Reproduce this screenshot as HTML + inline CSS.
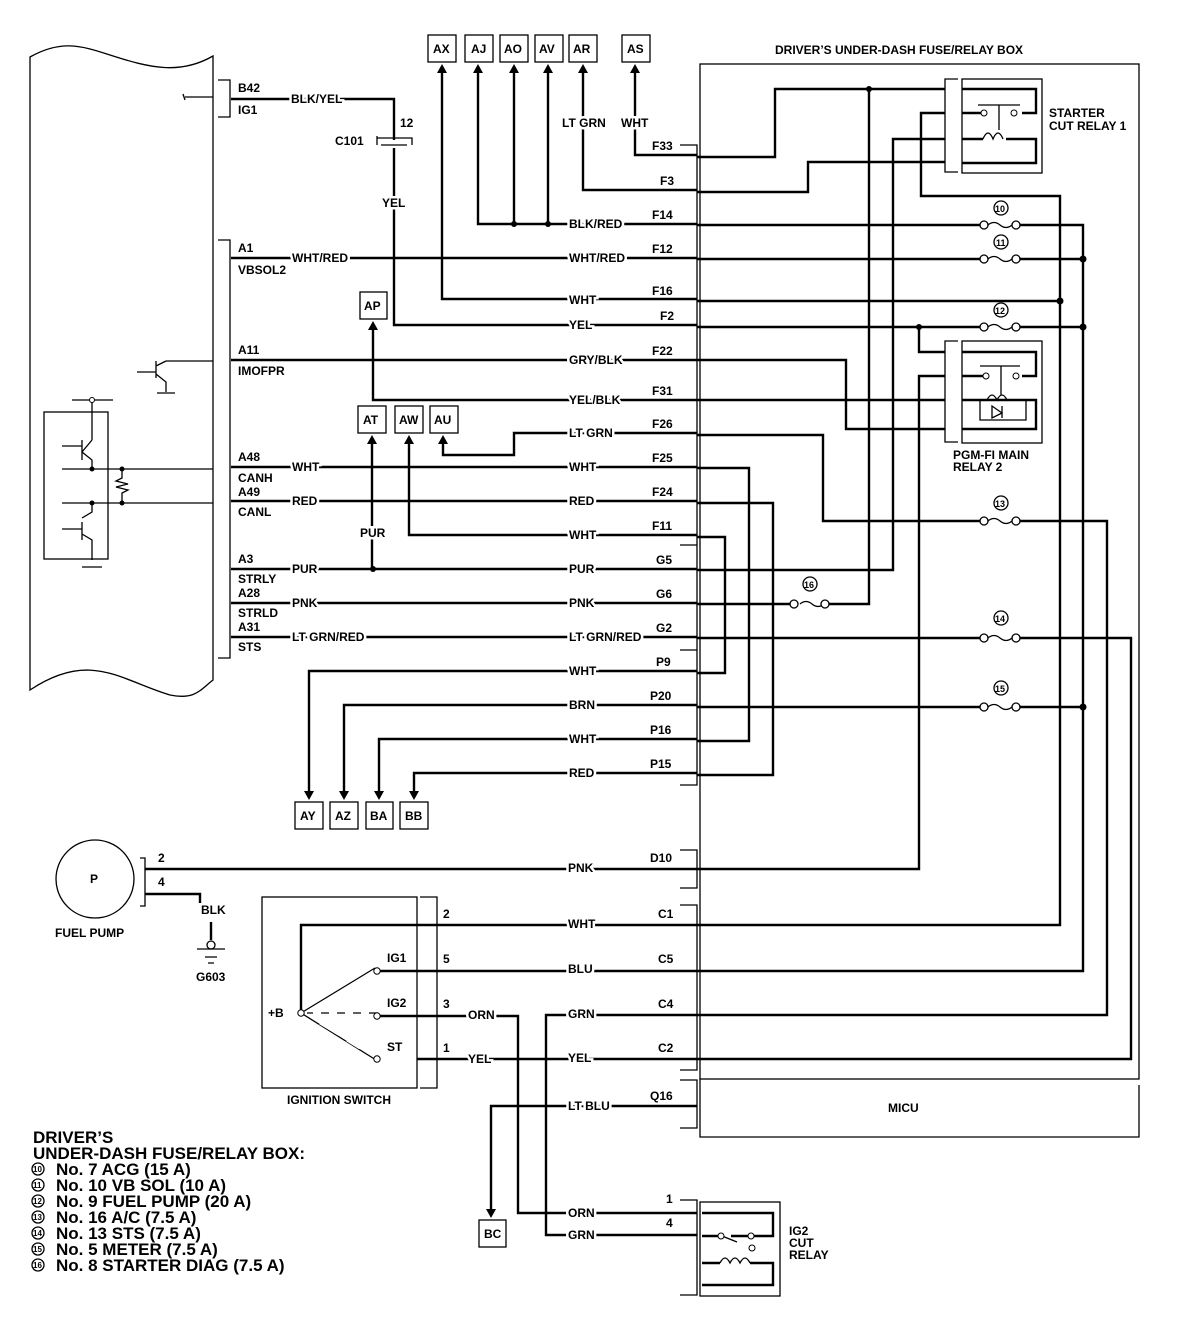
<!DOCTYPE html>
<html><head><meta charset="utf-8"><style>
html,body{margin:0;padding:0;background:#fff}
svg{display:block}
text{font-family:"Liberation Sans",sans-serif;font-weight:bold;font-size:12px;fill:#000}
.m{stroke:#fff;stroke-width:5px;paint-order:stroke}
.w{stroke:#000;stroke-width:2.4;fill:none}
.t{stroke:#000;stroke-width:1.3;fill:none}
.lg text{font-size:17px}
.fn text{font-size:9px}
.ln text{font-size:8px}
</style></head><body>
<svg width="1184" height="1338" viewBox="0 0 1184 1338" xmlns="http://www.w3.org/2000/svg">
<path class="t" d="M30,57 C60,40 80,45 110,55 C150,68 180,75 213,56 L213,680 C200,690 195,700 170,695 C120,680 90,650 30,690 Z"/>
<path class="t" d="M218,80 H230 V117 H218 M218,240 H230 V658 H218"/>
<rect x="44" y="412" width="64" height="147" class="t"/>
<path class="t" d="M72,400 H113 M92,400 V440 M82,440 V460 M62,446 H82 M92,440 L82,452 M82,452 L92,460 V470 M62,469 H213 M62,503 H213 M92,503 V512 L82,518 M82,522 V540 M62,529 H82 M82,534 L92,540 V560 M82,567 H102 M122,469 V478 L116,481 L128,484 L116,487 L128,490 L122,493 V503"/>
<circle cx="92" cy="469" r="2.5"/><circle cx="122" cy="469" r="2.5"/><circle cx="92" cy="503" r="2.5"/><circle cx="122" cy="503" r="2.5"/>
<circle cx="92" cy="400" r="2.5" fill="#fff" stroke="#000"/>
<path class="t" d="M166,361 H213 M156,361 V378 M137,372 H156 M156,366 L166,361 M156,374 L166,382 V392 M157,393 H175"/>
<path class="t" d="M185,97 H213 M183,94 L185,100"/>

<text x="238" y="92">B42</text><text x="238" y="114">IG1</text>
<text x="238" y="252">A1</text><text x="238" y="274">VBSOL2</text>
<text x="238" y="354">A11</text><text x="238" y="375">IMOFPR</text>
<text x="238" y="461">A48</text><text x="238" y="482">CANH</text>
<text x="238" y="496">A49</text><text x="238" y="516">CANL</text>
<text x="238" y="563">A3</text><text x="238" y="583">STRLY</text>
<text x="238" y="597">A28</text><text x="238" y="617">STRLD</text>
<text x="238" y="631">A31</text><text x="238" y="651">STS</text>

<path class="w" d="M231,99 H394 V140 M394,148 V325 H697"/>
<path class="t" d="M377,136 V145 M377,138 H412 V145 M381,145 H407"/>
<text x="291" y="103" class="m">BLK/YEL</text>
<text x="400" y="127">12</text>
<text x="335" y="145">C101</text>
<text x="382" y="207" class="m">YEL</text>

<path class="w" d="M231,258 H697 M231,360 H697 M231,467 H697 M231,501 H697 M231,569 H697 M231,603 H697 M231,637 H697"/>
<text x="292" y="262" class="m">WHT/RED</text>
<text x="292" y="471" class="m">WHT</text>
<text x="292" y="505" class="m">RED</text>
<text x="292" y="573" class="m">PUR</text>
<text x="292" y="607" class="m">PNK</text>
<text x="292" y="641" class="m">LT GRN/RED</text>

<g class="t">
<rect x="428" y="35" width="28" height="27"/><rect x="465" y="35" width="28" height="27"/><rect x="500" y="35" width="28" height="27"/><rect x="535" y="35" width="28" height="27"/><rect x="569" y="35" width="28" height="27"/><rect x="622" y="35" width="28" height="27"/>
<rect x="360" y="292" width="27" height="27"/><rect x="358" y="406" width="28" height="27"/><rect x="395" y="406" width="28" height="27"/><rect x="430" y="406" width="28" height="27"/>
<rect x="295" y="802" width="28" height="27"/><rect x="330" y="802" width="28" height="27"/><rect x="366" y="802" width="27" height="27"/><rect x="400" y="802" width="28" height="27"/>
<rect x="479" y="1220" width="27" height="27"/>
</g>
<text x="433" y="53">AX</text><text x="471" y="53">AJ</text><text x="504" y="53">AO</text><text x="539" y="53">AV</text><text x="573" y="53">AR</text><text x="627" y="53">AS</text>
<text x="364" y="310">AP</text><text x="363" y="424">AT</text><text x="399" y="424">AW</text><text x="434" y="424">AU</text>
<text x="300" y="820">AY</text><text x="335" y="820">AZ</text><text x="370" y="820">BA</text><text x="405" y="820">BB</text>
<text x="484" y="1238">BC</text>

<g fill="#000">
<path d="M442,64 l-5,9 h10z M478,64 l-5,9 h10z M514,64 l-5,9 h10z M548,64 l-5,9 h10z M583,64 l-5,9 h10z M635,64 l-5,9 h10z M373,321 l-5,9 h10z M372,435 l-5,9 h10z M409,435 l-5,9 h10z M443,435 l-5,9 h10z"/>
<path d="M309,800 l-5,-9 h10z M344,800 l-5,-9 h10z M379,800 l-5,-9 h10z M414,800 l-5,-9 h10z M491,1218 l-5,-9 h10z"/>
</g>
<path class="w" d="M442,70 V299 H697 M478,70 V224 H697 M514,70 V224 M548,70 V224 M583,70 V190 H697 M635,70 V155 H697"/>
<circle cx="514" cy="224" r="3"/><circle cx="548" cy="224" r="3"/>
<text x="562" y="127" class="m">LT GRN</text><text x="621" y="127" class="m">WHT</text>
<text x="569" y="228" class="m">BLK/RED</text>
<text x="569" y="262" class="m">WHT/RED</text>
<text x="569" y="304" class="m">WHT</text>
<text x="569" y="329" class="m">YEL</text>
<text x="569" y="364" class="m">GRY/BLK</text>
<path class="w" d="M373,327 V400 H697 M372,441 V569 M409,441 V535 H697 M443,441 V455 H514 V433 H697"/>
<circle cx="373" cy="569" r="3"/>
<text x="569" y="404" class="m">YEL/BLK</text>
<text x="569" y="437" class="m">LT GRN</text>
<text x="569" y="471" class="m">WHT</text>
<text x="569" y="505" class="m">RED</text>
<text x="569" y="539" class="m">WHT</text>
<text x="360" y="537" class="m">PUR</text>
<text x="569" y="573" class="m">PUR</text>
<text x="569" y="607" class="m">PNK</text>
<text x="569" y="641" class="m">LT GRN/RED</text>
<path class="w" d="M697,671 H309 V795 M697,705 H344 V795 M697,739 H379 V795 M697,773 H414 V795"/>
<text x="569" y="675" class="m">WHT</text><text x="569" y="709" class="m">BRN</text><text x="569" y="743" class="m">WHT</text><text x="569" y="777" class="m">RED</text>

<text x="652" y="150">F33</text><text x="660" y="185">F3</text><text x="652" y="219">F14</text><text x="652" y="253">F12</text><text x="652" y="295">F16</text><text x="660" y="320">F2</text><text x="652" y="355">F22</text><text x="652" y="395">F31</text><text x="652" y="428">F26</text><text x="652" y="462">F25</text><text x="652" y="496">F24</text><text x="652" y="530">F11</text><text x="656" y="564">G5</text><text x="656" y="598">G6</text><text x="656" y="632">G2</text><text x="656" y="666">P9</text><text x="650" y="700">P20</text><text x="650" y="734">P16</text><text x="650" y="768">P15</text>
<text x="650" y="862">D10</text><text x="658" y="918">C1</text><text x="658" y="963">C5</text><text x="658" y="1008">C4</text><text x="658" y="1052">C2</text><text x="650" y="1100">Q16</text>

<path class="t" d="M680,145 H697 V545 H680 M680,545 H697 V650 H680 M680,650 H697 V785 H680 M680,850 H697 V888 H680 M680,905 H697 V1070 H680 M680,1080 H697 V1128 H680 M680,1200 H697 V1295 H680"/>
<rect x="700" y="64" width="439" height="1015" class="t" stroke-width="1.8"/>
<path class="t" stroke-width="1.8" d="M700,1079 V1137 H1139 V1085"/>
<text x="888" y="1112">MICU</text>
<text x="775" y="54">DRIVER’S UNDER-DASH FUSE/RELAY BOX</text>

<path class="w" d="M697,157 H775 V89 H945 M869,89 V604 H826 M697,192 H808 V162 H945 M945,113 H921 V196 H1060 V925 H697 M945,139 H893 V570 H697
M697,225 H980 M1020,225 H1083 V971 H697 M697,259 H980 M1020,259 H1083 M697,301 H1060 M697,327 H980 M1020,327 H1083
M919,327 V352 H945 M945,376 H919 V869 H697 M697,360 H846 V429 H945 M697,400 H945
M697,435 H823 V521 H980 M1020,521 H1107 V1015 H697 M697,468 H749 V741 H697 M697,503 H773 V775 H697 M697,537 H725 V673 H697
M697,604 H792 M697,638 H980 M1020,638 H1131 V1059 H697 M697,707 H980 M1020,707 H1083"/>
<circle cx="869" cy="89" r="3"/><circle cx="1060" cy="301" r="3.5"/><circle cx="1083" cy="259" r="3.5"/><circle cx="1083" cy="327" r="3.5"/><circle cx="1083" cy="707" r="3.5"/><circle cx="919" cy="327" r="3"/>
<g class="t" fill="#fff">
<path d="M988,225 q6,-5 12,0 t12,0 M988,259 q6,-5 12,0 t12,0 M988,327 q6,-5 12,0 t12,0 M988,521 q6,-5 12,0 t12,0 M988,638 q6,-5 12,0 t12,0 M988,707 q6,-5 12,0 t12,0 M800,604 q6,-5 12,0 t12,0"/>
<circle cx="984" cy="225" r="4" fill="#fff"/><circle cx="1016" cy="225" r="4" fill="#fff"/>
<circle cx="984" cy="259" r="4" fill="#fff"/><circle cx="1016" cy="259" r="4" fill="#fff"/>
<circle cx="984" cy="327" r="4" fill="#fff"/><circle cx="1016" cy="327" r="4" fill="#fff"/>
<circle cx="984" cy="521" r="4" fill="#fff"/><circle cx="1016" cy="521" r="4" fill="#fff"/>
<circle cx="984" cy="638" r="4" fill="#fff"/><circle cx="1016" cy="638" r="4" fill="#fff"/>
<circle cx="984" cy="707" r="4" fill="#fff"/><circle cx="1016" cy="707" r="4" fill="#fff"/>
<circle cx="794" cy="604" r="4" fill="#fff"/><circle cx="825" cy="604" r="4" fill="#fff"/>
<circle cx="1001" cy="208" r="7"/><circle cx="1001" cy="242" r="7"/><circle cx="1001" cy="310" r="7"/><circle cx="1001" cy="503" r="7"/><circle cx="1001" cy="618" r="7"/><circle cx="1001" cy="688" r="7"/><circle cx="810" cy="584" r="7"/>
</g>
<g class="fn">
<text x="995" y="212">10</text><text x="996" y="246">11</text><text x="995" y="314">12</text><text x="995" y="507">13</text><text x="995" y="622">14</text><text x="995" y="692">15</text><text x="804" y="588">16</text>
</g>

<path class="t" d="M958,79 H945 V172 H958"/>
<rect x="962" y="79" width="80" height="94" class="t"/>
<path class="w" d="M962,89 H1036 V113 H1022 M962,113 H983 M962,139 H983 M1006,139 H1036 V163 H962"/>
<path class="t" d="M978,105 H1020 M999,105 V130 M983,139 q5,-12 10,0 q5,-12 10,0"/>
<circle cx="984" cy="113" r="3" fill="#fff" stroke="#000"/><circle cx="1014" cy="113" r="3" fill="#fff" stroke="#000"/>
<text x="1049" y="117">STARTER</text><text x="1049" y="130">CUT RELAY 1</text>
<path class="t" d="M958,341 H945 V442 H958"/>
<rect x="962" y="341" width="80" height="102" class="t"/>
<path class="w" d="M962,352 H1036 V376 H1022 M962,376 H985 M962,400 H1036 V429 H962"/>
<path class="t" d="M980,366 H1020 M1001,366 V395 M980,400 V420 H1026 V400 M992,406 L1002,413 L992,418 Z M1002,406 V418 M987,400 q5,-10 10,0 q5,-10 10,0"/>
<circle cx="986" cy="376" r="3" fill="#fff" stroke="#000"/><circle cx="1016" cy="376" r="3" fill="#fff" stroke="#000"/>
<text x="953" y="459">PGM-FI MAIN</text><text x="953" y="471">RELAY 2</text>

<circle cx="95" cy="879" r="39" class="t"/>
<text x="90" y="883">P</text>
<text x="55" y="937">FUEL PUMP</text>
<path class="t" d="M140,858 H145 V906 H140"/>
<path class="w" d="M145,869 H697 M145,894 H200 V903"/>
<text x="158" y="862">2</text><text x="158" y="886">4</text>
<text x="201" y="914">BLK</text>
<path class="w" d="M211,922 V940"/>
<circle cx="211" cy="945" r="4" class="t" fill="#fff"/>
<path class="t" d="M197,949 H225 M205,957 H217 M208,963 H214" stroke-width="2"/>
<text x="196" y="981">G603</text>
<text x="568" y="872" class="m">PNK</text>

<rect x="262" y="897" width="155" height="191" class="t"/>
<path class="t" d="M420,897 H437 V1088 H420"/>
<path class="w" d="M697,925 H301 V1013 M375,971 H697 M377,1016 H518 V1213 H697 M417,1059 H697 M697,1015 H546 V1235 H697 M697,1106 H491 V1212"/>
<path class="t" d="M301,1013 L375,968 M301,1013 L376,1060 M307,1013 H377"/>
<path d="M307,1013 H377" stroke="#fff" stroke-width="3" stroke-dasharray="8,8" stroke-dashoffset="-6"/>
<path d="M320,1023 L340,1035 M347,1040 L360,1048" stroke="#fff" stroke-width="3"/>
<circle cx="301" cy="1013" r="3.2" fill="#fff" stroke="#000"/>
<circle cx="377" cy="971" r="3.2" fill="#fff" stroke="#000"/><circle cx="377" cy="1016" r="3.2" fill="#fff" stroke="#000"/><circle cx="377" cy="1059" r="3.2" fill="#fff" stroke="#000"/>
<text x="268" y="1017">+B</text>
<text x="387" y="962">IG1</text><text x="387" y="1007">IG2</text><text x="387" y="1051">ST</text>
<text x="443" y="918">2</text><text x="443" y="963">5</text><text x="443" y="1008">3</text><text x="443" y="1052">1</text>
<text x="287" y="1104">IGNITION SWITCH</text>
<text x="568" y="928" class="m">WHT</text><text x="568" y="973" class="m">BLU</text>
<text x="468" y="1019" class="m">ORN</text><text x="568" y="1018" class="m">GRN</text>
<text x="468" y="1063" class="m">YEL</text><text x="568" y="1062" class="m">YEL</text>
<text x="568" y="1110" class="m">LT BLU</text>
<text x="568" y="1217" class="m">ORN</text><text x="568" y="1239" class="m">GRN</text>
<text x="666" y="1203">1</text><text x="666" y="1227">4</text>

<rect x="700" y="1202" width="80" height="94" class="t"/>
<path class="w" d="M702,1213 H773 V1236 H751 M702,1236 H718 M731,1236 H748 M702,1263 H720 M750,1263 H773 V1285 H702"/>
<path class="t" d="M722,1236 L737,1242 M720,1263 q5,-10 10,0 q5,-10 10,0 q5,-10 10,0"/>
<circle cx="721" cy="1236" r="3" fill="#fff" stroke="#000"/><circle cx="751" cy="1236" r="3" fill="#fff" stroke="#000"/><circle cx="752" cy="1248" r="3" fill="#fff" stroke="#000"/>
<text x="789" y="1235">IG2</text><text x="789" y="1247">CUT</text><text x="789" y="1259">RELAY</text>

<g class="lg">
<text x="33" y="1143">DRIVER’S</text>
<text x="33" y="1159">UNDER-DASH FUSE/RELAY BOX:</text>
<text x="56" y="1175">No. 7 ACG (15 A)</text>
<text x="56" y="1191">No. 10 VB SOL (10 A)</text>
<text x="56" y="1207">No. 9 FUEL PUMP (20 A)</text>
<text x="56" y="1223">No. 16 A/C (7.5 A)</text>
<text x="56" y="1239">No. 13 STS (7.5 A)</text>
<text x="56" y="1255">No. 5 METER (7.5 A)</text>
<text x="56" y="1271">No. 8 STARTER DIAG (7.5 A)</text>
</g>
<g class="t"><circle cx="38" cy="1169" r="6"/><circle cx="38" cy="1185" r="6"/><circle cx="38" cy="1201" r="6"/><circle cx="38" cy="1217" r="6"/><circle cx="38" cy="1233" r="6"/><circle cx="38" cy="1249" r="6"/><circle cx="38" cy="1265" r="6"/></g>
<g class="ln"><text x="33" y="1172">10</text><text x="33" y="1188">11</text><text x="33" y="1204">12</text><text x="33" y="1220">13</text><text x="33" y="1236">14</text><text x="33" y="1252">15</text><text x="33" y="1268">16</text></g>
</svg>
</body></html>
